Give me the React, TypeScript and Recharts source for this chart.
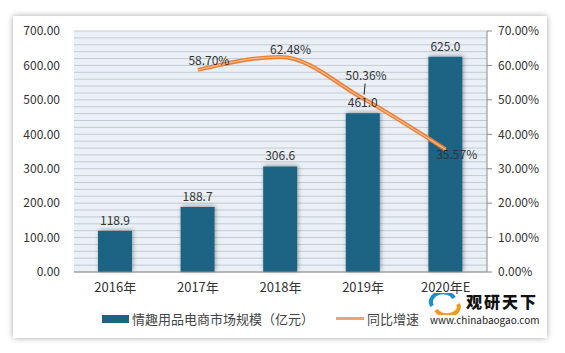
import React from 'react';
import {
  ComposedChart,
  Bar,
  Line,
  XAxis,
  YAxis,
  CartesianGrid,
  Legend,
  LabelList,
} from 'recharts';

const years = ['2016年', '2017年', '2018年', '2019年', '2020年E'];
const marketSize = [118.9, 188.7, 306.6, 461.0, 625.0];
const growthRate = [null, 58.7, 62.48, 50.36, 35.57];
const leftTicks = [0, 100, 200, 300, 400, 500, 600, 700];
const rightTicks = [0, 10, 20, 30, 40, 50, 60, 70];

const BAR_NAME = '情趣用品电商市场规模（亿元）';
const LINE_NAME = '同比增速';

const data = years.map((name, i) => ({
  name,
  size: marketSize[i],
  rate: growthRate[i],
}));

// minor grid every 20 on the left axis
const gridValues = Array.from({ length: 36 }, (_, i) => i * 20);

const FONT = '"Microsoft YaHei", "Noto Sans CJK SC", sans-serif';
const BAR_COLOR = '#1c6384';
const LINE_COLOR = '#ed7d31';

// label offsets for the rate line, keyed by data index
const rateLabelShift: Record<number, { dx: number; dy: number }> = {
  1: { dx: 11, dy: -8 },
  2: { dx: 10, dy: -6 },
  3: { dx: 3, dy: -22 },
  4: { dx: 11, dy: 6 },
};

const RateLabel = (props: any) => {
  const { x, y, value, index } = props;
  if (value == null) return null;
  const s = rateLabelShift[index] || { dx: 0, dy: -8 };
  return (
    <g>
      {index === 3 && (
        <line x1={x + 2} y1={y - 15} x2={x + 1} y2={y - 4} stroke="#222" strokeWidth={1} />
      )}
      <text
        x={x + s.dx}
        y={y + s.dy}
        textAnchor="middle"
        dominantBaseline="middle"
        fontSize={12}
        fontFamily={FONT}
        fill="#333"
      >
        {`${Number(value).toFixed(2)}%`}
      </text>
    </g>
  );
};

const LegendContent = () => (
  <div
    style={{
      display: 'flex',
      alignItems: 'center',
      fontFamily: FONT,
      fontSize: 13,
      color: '#444',
      paddingLeft: 102,
    }}
  >
    <span style={{ display: 'inline-block', width: 27, height: 8, background: BAR_COLOR, marginRight: 3 }} />
    <span>{BAR_NAME}</span>
    <span
      style={{
        display: 'inline-block',
        width: 28,
        height: 3,
        background: '#f4a46a',
        marginLeft: 22,
        marginRight: 3,
      }}
    />
    <span>{LINE_NAME}</span>
  </div>
);

const Watermark = () => (
  <div style={{ position: 'absolute', left: 428, top: 292, width: 120, height: 42, fontFamily: FONT }}>
    <svg width={34} height={22} style={{ position: 'absolute', left: 0, top: 1 }}>
      <path d="M4 13 A10 8 0 0 1 26 5" stroke="#1a8fd0" strokeWidth={4} fill="none" />
      <path d="M8 17 A10 7 0 0 0 30 11" stroke="#f39a1e" strokeWidth={4} fill="none" />
    </svg>
    <div
      style={{
        position: 'absolute',
        left: 38,
        top: 1,
        fontSize: 16,
        lineHeight: '16px',
        fontWeight: 900,
        color: '#111',
        letterSpacing: 2,
      }}
    >
      观研天下
    </div>
    <div style={{ position: 'absolute', left: 2, top: 23, fontSize: 10, lineHeight: '10px', color: '#222' }}>
      www.chinabaogao.com
    </div>
  </div>
);

export default function App() {
  return (
    <div style={{ position: 'absolute', left: 0, top: 0, width: 565, height: 353, background: '#fff' }}>
      <div
        style={{
          position: 'absolute',
          left: 13,
          top: 16,
          width: 534,
          height: 322,
          background: '#fff',
          boxShadow: '0 0 6px rgba(0,0,0,0.35)',
        }}
      />
      <div style={{ position: 'absolute', left: 0, top: 0 }}>
        <ComposedChart
          width={565}
          height={353}
          data={data}
          margin={{ top: 31, right: 18, left: 14, bottom: 0 }}
          barCategoryGap="0%"
        >
          <defs>
            <filter id="barShadow" x="-30%" y="-10%" width="160%" height="130%">
              <feDropShadow dx={1} dy={-1} stdDeviation={2} floodColor="#000" floodOpacity={0.35} />
            </filter>
          </defs>
          <CartesianGrid
            yAxisId="left"
            vertical={false}
            horizontalValues={gridValues}
            stroke="#c3cad3"
            fill="#eaf0f6"
            fillOpacity={1}
          />
          <XAxis
            dataKey="name"
            height={81}
            tickLine={false}
            tickSize={0}
            tickMargin={11}
            axisLine={{ stroke: '#8c8c8c' }}
            tick={{ fill: '#333', fontSize: 13, fontFamily: FONT }}
          />
          <YAxis
            yAxisId="left"
            width={60}
            domain={[0, 700]}
            ticks={leftTicks}
            interval={0}
            axisLine={false}
            tickLine={false}
            tickSize={0}
            tickMargin={14}
            tick={{ fill: '#333', fontSize: 12, fontFamily: FONT }}
            tickFormatter={(v: number) => v.toFixed(2)}
          />
          <YAxis
            yAxisId="right"
            orientation="right"
            width={60}
            domain={[0, 70]}
            ticks={rightTicks}
            interval={0}
            axisLine={{ stroke: '#8c8c8c' }}
            tickLine={{ stroke: '#8c8c8c' }}
            tickSize={5}
            tickMargin={6}
            tick={{ fill: '#333', fontSize: 12, fontFamily: FONT }}
            tickFormatter={(v: number) => `${v.toFixed(2)}%`}
          />
          <Legend
            layout="horizontal"
            verticalAlign="middle"
            align="center"
            content={<LegendContent />}
            wrapperStyle={{ top: 309, left: 0, width: 565 }}
          />
          <Bar
            yAxisId="left"
            dataKey="size"
            name={BAR_NAME}
            fill={BAR_COLOR}
            barSize={34}
            filter="url(#barShadow)"
            isAnimationActive={false}
          >
            <LabelList
              dataKey="size"
              position="top"
              offset={6}
              formatter={(v: any) => Number(v).toFixed(1)}
              style={{ fill: '#333', fontSize: 12, fontFamily: FONT }}
            />
          </Bar>
          <Line
            yAxisId="right"
            type="monotone"
            dataKey="rate"
            name={LINE_NAME}
            stroke={LINE_COLOR}
            strokeWidth={4}
            dot={false}
            activeDot={false}
            connectNulls={false}
            isAnimationActive={false}
          />
          <Line
            yAxisId="right"
            type="monotone"
            dataKey="rate"
            stroke="#f7b98a"
            strokeWidth={1.2}
            dot={false}
            activeDot={false}
            legendType="none"
            isAnimationActive={false}
          >
            <LabelList dataKey="rate" content={<RateLabel />} />
          </Line>
        </ComposedChart>
      </div>
      <Watermark />
    </div>
  );
}
